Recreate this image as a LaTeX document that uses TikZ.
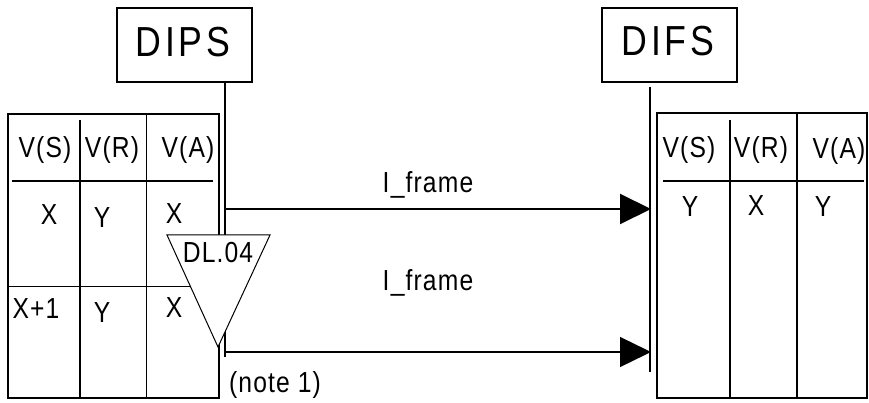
\documentclass[tikz,border=0pt]{standalone}
\usepackage{fontspec}
\setmainfont{Liberation Sans}
\newfontfamily\spaced[FakeStretch=0.85,LetterSpace=4]{Liberation Sans}
\newfontfamily\spacedbig[FakeStretch=0.85,LetterSpace=9]{Liberation Sans}
\usetikzlibrary{arrows.meta}
\begin{document}
\begin{tikzpicture}[x=1pt,y=-1pt,
  txt/.style={inner sep=0pt, anchor=base, font=\spaced\fontsize{29}{34}\selectfont},
  bigtxt/.style={inner sep=0pt, anchor=base, font=\spacedbig\fontsize{42}{50}\selectfont},
  titlebox/.style={draw, line width=1.5pt, minimum width=135pt, minimum height=74pt, inner sep=0pt},
  framebox/.style={line width=2pt},
  gridline/.style={line width=1.5pt},
  thinline/.style={line width=1pt},
  lifeline/.style={line width=2.5pt},
  msg/.style={-{Triangle[length=31pt,width=30pt]}},
]
\useasboundingbox (0,0) rectangle (869,403);

% title boxes
\node[titlebox] (dips) at (184.5,45) {};
\node[bigtxt] (dipst) at (183,57) {DIPS};
\node[titlebox] (difs) at (669.5,45) {};
\node[bigtxt] (difst) at (668,56) {DIFS};

% left table
\draw[framebox] (8,114) rectangle (219,398);
\draw[gridline] (80,120) -- (80,398);
\draw[thinline] (146,114) -- (146,398);
\draw[gridline] (12,181) -- (213,181);
\draw[thinline] (8,286) -- (200,286);

\node[txt] (l11) at (45,158) {V(S)};
\node[txt] (l12) at (112,158) {V(R)};
\node[txt] (l13) at (188,158) {V(A)};
\node[txt] (l21) at (49,225) {X};
\node[txt] (l22) at (102,228) {Y};
\node[txt] (l23) at (174,223) {X};
\node[txt] (l31) at (36,318) {X+1};
\node[txt] (l32) at (102,322) {Y};
\node[txt] (l33) at (174,317) {X};

% right table
\draw[framebox] (657,113) rectangle (867,398);
\draw[gridline] (730,120) -- (730,398);
\draw[gridline] (797,113) -- (797,398);
\draw[gridline] (663,181) -- (864,181);

\node[txt] (r11) at (689,158) {V(S)};
\node[txt] (r12) at (761,158) {V(R)};
\node[txt] (r13) at (839,159) {V(A)};
\node[txt] (r21) at (690,217) {Y};
\node[txt] (r22) at (756,215) {X};
\node[txt] (r23) at (823,217) {Y};

% lifelines
\coordinate (dipsend) at (225,357);
\coordinate (difstop) at (650,87);
\coordinate (difsend) at (650,372);
\draw[lifeline] (dips.south -| dipsend) -- (dipsend);
\draw[lifeline] (difstop) -- (difsend);

% delay triangle
\coordinate (ta) at (167,235);
\coordinate (tb) at (270,235);
\coordinate (tc) at (218,347);
\filldraw[fill=white, thinline] (ta) -- (tb) -- (tc) -- cycle;
\node[txt] (dl) at (218,262) {DL.04};

% messages
\coordinate (s1) at (225,209);
\coordinate (e1) at (651,209);
\coordinate (s2) at (225,352);
\coordinate (e2) at (651,352);
\draw[msg, line width=2pt] (s1) -- (e1);
\draw[msg, line width=1.3pt] (s2) -- (e2);
\node[txt] (m1) at (428,193) {I\_frame};
\node[txt] (m2) at (428,290) {I\_frame};
\node[txt] (note) at (275,392) {(note 1)};
\end{tikzpicture}
\end{document}
